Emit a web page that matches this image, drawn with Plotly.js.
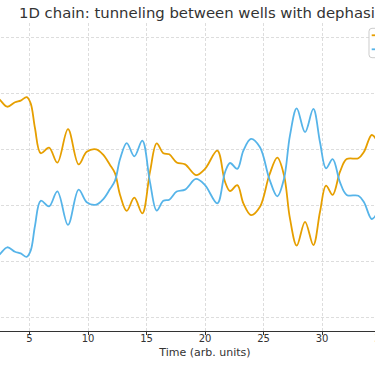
<!DOCTYPE html>
<html>
<head>
<meta charset="utf-8">
<script src="https://cdn.plot.ly/plotly-3.0.1.min.js"></script>
<style>
html,body{margin:0;padding:0;width:375px;height:366px;overflow:hidden;background:#fff;}
#chart{position:absolute;left:-100px;top:0;width:600px;height:366px;}
</style>
</head>
<body>
<div id="chart"></div>
<script>
// Time samples (arb. units)
const timeLeft = [2.3,2.48,3.10,3.76,4.25,4.76,5.10,5.47,5.96,6.67,7.38,8.29,9.20,9.89,10.7,11.31,11.88,12.31,12.74,13.31,13.96,14.64,15.30,15.87,16.44,16.95,17.58,18.3,19.23,20.0,21.05,21.71,22.14,22.76,23.28,23.93,24.70,25.50,26.18,26.75,27.26,27.84,28.55,29.26,29.83,30.34,30.91,31.54,32.11,33.11,33.59,34.25,34.7];
// Population in left well
const popLeft = [0.78,0.775,0.751,0.767,0.773,0.785,0.763,0.674,0.585,0.605,0.551,0.671,0.545,0.590,0.599,0.579,0.543,0.513,0.436,0.379,0.426,0.370,0.519,0.620,0.585,0.581,0.552,0.545,0.507,0.529,0.594,0.483,0.450,0.471,0.406,0.364,0.394,0.507,0.569,0.507,0.352,0.255,0.340,0.257,0.376,0.469,0.436,0.519,0.564,0.567,0.590,0.650,0.630];
// Population in right well
const popRight = [0.22,0.225,0.249,0.233,0.227,0.215,0.237,0.326,0.415,0.395,0.449,0.329,0.455,0.410,0.401,0.421,0.457,0.487,0.564,0.621,0.574,0.630,0.481,0.380,0.415,0.419,0.448,0.455,0.493,0.471,0.406,0.517,0.550,0.529,0.594,0.636,0.606,0.493,0.431,0.493,0.648,0.745,0.660,0.743,0.624,0.531,0.564,0.481,0.436,0.433,0.410,0.350,0.370];
const seriesNames = ["Left well","Right well"];
const seriesColors = ['#E69F00','#56B4E9'];
const xTicks = [0,5,10,15,20,25,30,35,40];
const yTicks = [0,0.2,0.4,0.6,0.8,1.0];

const traces = [
  {x: timeLeft, y: popLeft, name: seriesNames[0], type: 'scatter', mode: 'lines',
   line: {color: seriesColors[0], width: 1.8, shape: 'spline', smoothing: 1}},
  {x: timeLeft, y: popRight, name: seriesNames[1], type: 'scatter', mode: 'lines',
   line: {color: seriesColors[1], width: 1.8, shape: 'spline', smoothing: 1}}
];

// Legend box (drawn manually to match compact spacing), paper coordinates
const lgX0 = 0.8504, lgX1 = 0.985, lgY0 = 0.8873, lgY1 = 0.9828;
const rx = 0.0064, ry = 0.0097;
const lgRowY = [0.9601, 0.9146];
const lgLineX = [0.8562, 0.8989];
const shapes = [
  {type: 'path', xref: 'paper', yref: 'paper',
   path: `M ${lgX0+rx},${lgY1} L ${lgX1-rx},${lgY1} Q ${lgX1},${lgY1} ${lgX1},${lgY1-ry} L ${lgX1},${lgY0+ry} Q ${lgX1},${lgY0} ${lgX1-rx},${lgY0} L ${lgX0+rx},${lgY0} Q ${lgX0},${lgY0} ${lgX0},${lgY0+ry} L ${lgX0},${lgY1-ry} Q ${lgX0},${lgY1} ${lgX0+rx},${lgY1} Z`,
   fillcolor: 'rgba(255,255,255,0.9)', line: {color: '#cccccc', width: 1}, layer: 'above'}
];
const annotations = [];
seriesNames.forEach((nm, i) => {
  shapes.push({type: 'line', xref: 'paper', yref: 'paper',
    x0: lgLineX[0], x1: lgLineX[1], y0: lgRowY[i], y1: lgRowY[i],
    line: {color: seriesColors[i], width: 1.8}, layer: 'above'});
  annotations.push({xref: 'paper', yref: 'paper', x: 0.9075, y: lgRowY[i],
    xanchor: 'left', yanchor: 'middle', showarrow: false, text: nm,
    font: {size: 10, color: '#333'}});
});

const layout = {
  width: 600, height: 366,
  margin: {l: 71, r: 61, t: 23, b: 35},
  paper_bgcolor: '#fff', plot_bgcolor: '#fff',
  font: {family: 'DejaVu Sans, sans-serif', color: '#333'},
  title: {text: '1D chain: tunneling between wells with dephasing',
          font: {size: 14.85, color: '#333'},
          xref: 'container', x: 0.1983, xanchor: 'left',
          yref: 'container', y: 0.965, yanchor: 'middle'},
  xaxis: {range: [0, 40], tickvals: xTicks, ticktext: xTicks.map(String),
          showgrid: true, gridcolor: '#dddddd', griddash: '3px,2px', gridwidth: 1,
          zeroline: false, showline: true, linecolor: '#333', linewidth: 1,
          ticks: 'outside', ticklen: 3, tickcolor: '#333',
          ticklabelstandoff: -5,
          tickfont: {size: 10, color: '#333'},
          title: {text: 'Time (arb. units)', font: {size: 11, color: '#333'}, standoff: 5}},
  yaxis: {range: [-0.05, 1.05], tickvals: yTicks,
          showgrid: true, gridcolor: '#dddddd', griddash: '3px,2px', gridwidth: 1,
          zeroline: false, showline: false,
          ticks: 'outside', ticklen: 3, tickcolor: '#333',
          tickfont: {size: 10, color: '#333'}},
  shapes: shapes,
  annotations: annotations,
  showlegend: false
};

Plotly.newPlot('chart', traces, layout, {displayModeBar: false, staticPlot: true});
</script>
</body>
</html>
